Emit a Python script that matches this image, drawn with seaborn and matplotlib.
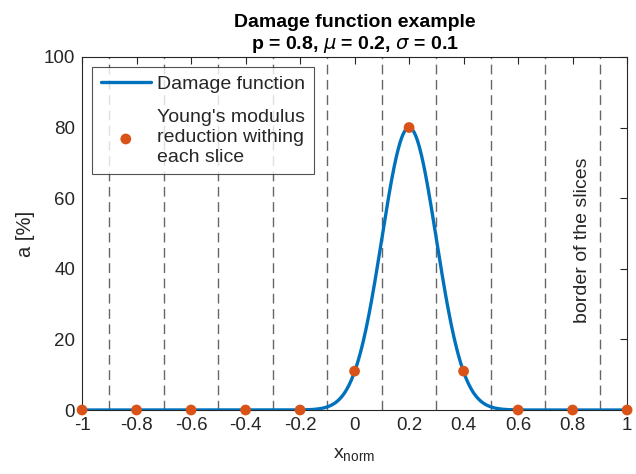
import numpy as np
import pandas as pd
import matplotlib
matplotlib.use('Agg')
import matplotlib.pyplot as plt
import seaborn as sns

# parameters of the damage function (from the title)
p = 0.8
mu = 0.2
sigma = 0.1

# slice centres and the reduction read in each slice [%]
slice_centres = [-1.0, -0.8, -0.6, -0.4, -0.2, 0.0, 0.2, 0.4, 0.6, 0.8, 1.0]
reduction = [0, 0, 0, 0, 0, 11, 80, 11, 0, 0, 0]

# borders between slices
slice_borders = [-0.9, -0.7, -0.5, -0.3, -0.1, 0.1, 0.3, 0.5, 0.7, 0.9]

x_ticks = [-1, -0.8, -0.6, -0.4, -0.2, 0, 0.2, 0.4, 0.6, 0.8, 1]
x_tick_labels = ['-1', '-0.8', '-0.6', '-0.4', '-0.2', '0', '0.2', '0.4', '0.6', '0.8', '1']
y_ticks = [0, 20, 40, 60, 80, 100]

BLUE = (0, 0.447, 0.741)
ORANGE = (0.85, 0.325, 0.098)
DARK = (0.15, 0.15, 0.15)


def damage(x):
    return 100 * p * np.exp(-(x - mu) ** 2 / (2 * sigma ** 2))


def main():
    sns.set_style('white')
    plt.rcParams['font.family'] = ['Liberation Sans', 'DejaVu Sans']
    plt.rcParams['mathtext.fontset'] = 'dejavusans'
    plt.rcParams['mathtext.default'] = 'it'

    x_curve = np.linspace(-1, 1, 801)
    curve = pd.DataFrame({'x': x_curve, 'a': damage(x_curve)})
    slices = pd.DataFrame({'x': slice_centres, 'a': reduction})

    fig = plt.figure(figsize=(6.36, 4.74), dpi=100)
    ax = fig.add_axes([0.129, 0.135, 0.857, 0.745])

    for b in slice_borders:
        ax.axvline(b, color=(0.4, 0.4, 0.4), lw=1.0, ls=(0, (7, 4)), zorder=1)

    sns.lineplot(data=curve, x='x', y='a', ax=ax, color=BLUE, lw=2.4,
                 label='Damage function', zorder=3)
    sns.scatterplot(data=slices, x='x', y='a', ax=ax, color=ORANGE, s=60,
                    edgecolor='none', zorder=4, clip_on=False,
                    label="Young's modulus\nreduction withing\neach slice")

    ax.text(0.835, 48, 'border of the slices', rotation=90, ha='center',
            va='center', fontsize=14, color=DARK)

    ax.set_xlim(-1, 1)
    ax.set_ylim(0, 100)
    ax.set_xticks(x_ticks)
    ax.set_xticklabels(x_tick_labels)
    ax.set_yticks(y_ticks)
    ax.tick_params(direction='in', length=5, width=0.8, top=True, right=True,
                   labelsize=13.5, colors=DARK, pad=5)
    for s in ax.spines.values():
        s.set_color(DARK)
        s.set_linewidth(0.8)

    ax.set_xlabel(r'x$_{\mathregular{norm}}$', fontsize=14, color=DARK, labelpad=9)
    ax.set_ylabel('a [%]', fontsize=14.5, color=DARK, labelpad=6)
    ax.set_title('Damage function example\n'
                 r'p = 0.8, $\mu$ = 0.2, $\sigma$ = 0.1',
                 fontsize=14, fontweight='bold', color='black', pad=6)

    leg = ax.legend(loc='upper left', fontsize=14, frameon=True, fancybox=False,
                    handlelength=2.6, borderpad=0.45, labelspacing=0.85,
                    handletextpad=0.3, borderaxespad=0.5)
    leg.get_frame().set_edgecolor(DARK)
    leg.get_frame().set_linewidth(0.8)
    for t in leg.get_texts():
        t.set_color(DARK)

    fig.savefig('out.png', dpi=100)
    plt.close(fig)


if __name__ == '__main__':
    main()
